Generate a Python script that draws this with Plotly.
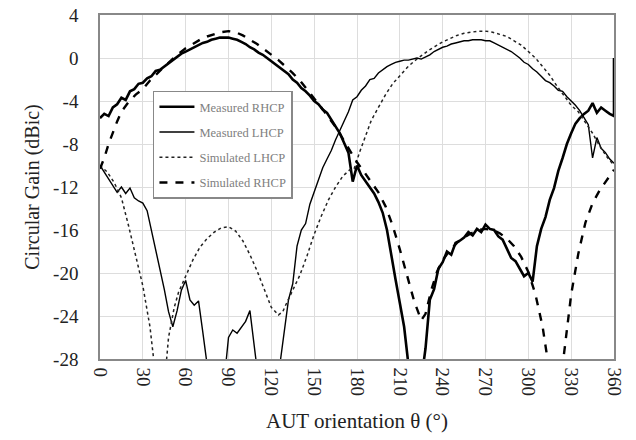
import plotly.graph_objects as go

# Measured RHCP (3-degree steps, then final point)
theta_mr = list(range(0, 361, 3)) + [360]
gain_mr = [
    -5.6, -5.2, -5.4, -4.6, -4.3, -3.7, -3.9, -3.1, -2.9, -2.4,
    -2.3, -1.9, -1.7, -1.2, -1.1, -0.8, -0.5, -0.2, 0.1, 0.4,
    0.6, 0.8, 1.0, 1.2, 1.4, 1.5, 1.7, 1.8, 1.9, 1.9,
    1.9, 1.8, 1.7, 1.5, 1.3, 1.0, 0.8, 0.5, 0.3, 0.0,
    -0.3, -0.6, -0.9, -1.2, -1.5, -2.0, -2.3, -2.8, -3.1, -3.5,
    -4.0, -4.3, -4.8, -5.1, -5.7, -6.4, -7.0, -7.9, -8.8, -11.5,
    -10.0, -10.9, -11.5, -12.0, -12.6, -13.4, -14.4, -16.0, -18.5, -20.6,
    -22.8, -25.0, -28.5, -30.0, -30.0, -30.0, -27.0, -22.5, -21.5, -19.6,
    -19.0, -18.0, -18.3, -17.2, -17.0, -16.7, -16.2, -16.5, -15.9, -16.2,
    -15.5, -15.9, -16.0, -16.6, -16.9, -17.8, -18.6, -18.9, -19.6, -20.3,
    -20.0, -20.8, -17.5, -15.9, -14.8, -13.2, -12.1, -10.5, -9.3, -8.0,
    -7.0, -6.1, -5.6, -5.2, -4.9, -4.2, -5.1, -4.6, -4.9, -5.2,
    -5.4, 0.0,
]

# Measured LHCP (3-degree steps)
theta_ml = list(range(0, 361, 3))
gain_ml = [
    -10.0, -10.6, -11.2, -11.9, -12.5, -12.0, -12.6, -12.1, -13.0, -13.3,
    -13.5, -14.2, -16.0, -17.8, -19.8, -21.5, -23.6, -25.0, -23.5, -21.6,
    -20.7, -22.5, -23.0, -22.6, -25.5, -28.5, -30.0, -30.0, -30.0, -30.0,
    -26.0, -25.3, -25.6, -25.0, -24.5, -23.5, -26.5, -30.0, -30.0, -30.0,
    -30.0, -30.0, -28.5, -25.6, -22.5, -21.0, -17.5, -16.0, -15.4, -13.6,
    -12.5, -11.3, -10.2, -9.4, -8.6, -7.6, -6.7, -5.8, -5.0, -3.9,
    -3.6, -3.0, -2.6, -2.0, -1.9, -1.4, -1.1, -0.8, -0.6, -0.4,
    -0.3, -0.2, -0.2, -0.1, 0.0, -0.1, 0.1, 0.3, 0.6, 0.8,
    1.0, 1.1, 1.3, 1.4, 1.5, 1.6, 1.6, 1.7, 1.7, 1.7,
    1.6, 1.6, 1.4, 1.2, 1.0, 0.8, 0.6, 0.3, 0.0, -0.4,
    -0.6, -1.0, -1.3, -1.7, -2.1, -2.3, -2.6, -3.0, -3.1, -3.6,
    -4.0, -4.4, -4.9, -5.6, -6.2, -9.3, -7.4, -8.4, -8.8, -9.4,
    -9.8,
]

# Simulated LHCP
theta_sl = [0, 5, 10, 15, 20, 25, 30, 35, 38, 41, 44, 48, 52, 55, 60, 65, 70, 75, 80, 85,
            90, 95, 100, 105, 110, 115, 120, 125, 128, 130, 135, 140, 145, 150, 155, 160,
            165, 170, 175, 178, 182, 186, 190, 195, 200, 205, 210, 215, 220, 225, 230, 235,
            240, 245, 250, 255, 260, 265, 270, 275, 280, 285, 290, 295, 300, 305, 310, 315,
            320, 325, 330, 335, 340, 345, 350, 355, 360]
gain_sl = [-10.0, -10.6, -11.6, -13.0, -15.6, -18.5, -21.2, -25.0, -28.5, -32.0, -32.0, -26.0,
           -23.2, -21.8, -20.3, -18.8, -17.6, -16.8, -16.2, -15.8,
           -15.7, -16.1, -17.0, -18.3, -19.8, -21.5, -23.2, -23.9, -23.6, -23.0, -21.6, -20.2,
           -18.4, -16.4, -14.7, -13.2, -12.0, -11.0, -10.4, -10.3, -8.7, -7.2, -5.8, -4.6, -3.4,
           -2.4, -1.6, -0.9, -0.3, 0.2, 0.7, 1.1,
           1.5, 1.8, 2.1, 2.3, 2.4, 2.5, 2.5, 2.4, 2.2, 2.0, 1.6, 1.2, 0.6, 0.0, -0.8, -1.6,
           -2.6, -3.5, -4.4, -5.0, -6.0, -7.0, -8.2, -9.2, -10.0]

# Simulated RHCP
theta_sr = [0, 3, 6, 9, 12, 15, 20, 25, 30, 35, 40, 45, 50, 55, 60, 65, 70, 75, 80, 85,
            90, 95, 100, 105, 110, 115, 120, 125, 130, 135, 140, 145, 150, 155, 160, 165,
            170, 175, 180, 185, 190, 195, 200, 205, 210, 215, 220, 225, 228, 232, 236, 240,
            245, 250, 255, 260, 265, 270, 275, 280, 285, 290, 295, 300, 305, 310, 314, 318,
            322, 325, 330, 335, 340, 345, 350, 355, 360]
gain_sr = [-10.3, -9.3, -8.0, -6.9, -5.9, -5.0, -4.1, -3.4, -2.9, -2.1, -1.4, -0.8, -0.2, 0.4,
           0.9, 1.3, 1.7, 2.0, 2.2, 2.4,
           2.5, 2.4, 2.1, 1.7, 1.3, 0.8, 0.3, -0.2, -0.8, -1.4, -2.1, -2.9, -3.7, -4.6, -5.5,
           -6.4, -7.5, -8.6, -9.7, -10.6, -11.5, -12.5, -13.8, -15.6, -17.8, -20.3, -22.6, -24.4,
           -23.8, -21.6, -19.9, -18.8,
           -17.9, -17.2, -16.7, -16.3, -16.0, -15.9, -16.0, -16.3, -16.8, -17.5, -18.5, -19.9,
           -22.0, -25.0, -28.5, -32.0, -32.0, -27.5, -22.0, -18.2, -15.3, -13.5, -12.3, -11.3,
           -10.4]

x_ticks = list(range(0, 361, 30))
y_ticks = list(range(-28, 5, 4))

serif = "Liberation Serif, Times New Roman, serif"

fig = go.Figure()
fig.add_trace(go.Scatter(x=theta_mr, y=gain_mr, mode="lines", name="Measured RHCP",
                         legendgroup="a", line=dict(color="black", width=2.6)))
fig.add_trace(go.Scatter(x=theta_ml, y=gain_ml, mode="lines", name="Measured LHCP",
                         legendgroup="b", line=dict(color="black", width=1.4)))
fig.add_trace(go.Scatter(x=theta_sl, y=gain_sl, mode="lines", name="Simulated LHCP",
                         legendgroup="c", line=dict(color="#222222", width=1.5, dash="dot")))
fig.add_trace(go.Scatter(x=theta_sr, y=gain_sr, mode="lines", name="Simulated RHCP",
                         legendgroup="d", line=dict(color="black", width=2.4, dash="8px,8px")))

fig.update_layout(
    width=636, height=440,
    margin=dict(l=100, r=22, t=15, b=81, autoexpand=False),
    paper_bgcolor="white", plot_bgcolor="white",
    font=dict(family=serif, size=19, color="#222222"),
    showlegend=True,
    legend=dict(x=0.103, y=0.78, xanchor="left", yanchor="top",
                bgcolor="white", bordercolor="#888888", borderwidth=1.5,
                font=dict(family=serif, size=12.5, color="#808080"),
                itemwidth=35, tracegroupgap=6),
    xaxis=dict(range=[0, 360], tickvals=x_ticks, ticktext=[str(v) for v in x_ticks],
               tickangle=90, showgrid=True, gridcolor="#dddddd", gridwidth=1,
               showline=True, linecolor="#888888", linewidth=1.5, mirror=True,
               zeroline=False, ticks="outside", ticklen=3, tickcolor="rgba(0,0,0,0)",
               automargin=False, ticklabeloverflow="allow",
               title=dict(text="AUT orientation θ (°)", font=dict(size=21), standoff=18),
               tickfont=dict(size=19)),
    yaxis=dict(range=[-28, 4], tickvals=y_ticks, ticktext=[str(v) for v in y_ticks],
               showgrid=True, gridcolor="#dddddd", gridwidth=1,
               showline=True, linecolor="#888888", linewidth=1.5, mirror=True,
               zeroline=False, ticks="outside", ticklen=16, tickcolor="rgba(0,0,0,0)",
               automargin=False, ticklabeloverflow="allow",
               title=dict(text="Circular Gain (dBic)", font=dict(size=20), standoff=8),
               tickfont=dict(size=19)),
)

fig.write_html("out.html", config={"displayModeBar": False},
               post_script="document.body.style.margin='0';")
